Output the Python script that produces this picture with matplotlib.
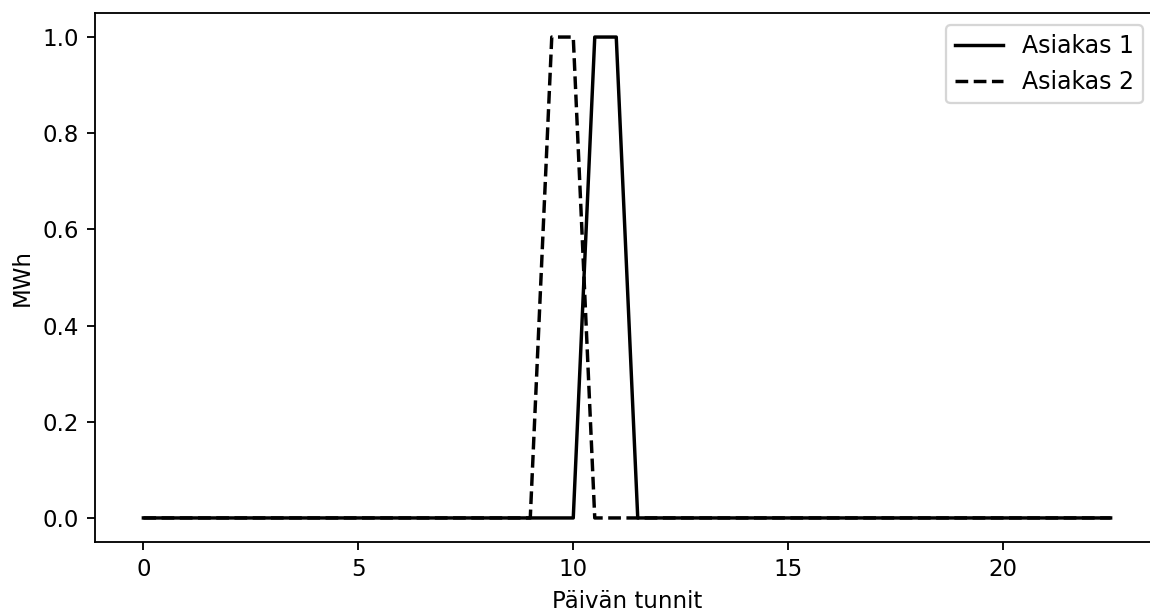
import matplotlib
matplotlib.use("Agg")
import matplotlib.pyplot as plt

hours = [i * 0.5 for i in range(46)]  # 0.0 ... 22.5
asiakas1 = [0]*21 + [1, 1] + [0]*23
asiakas2 = [0]*19 + [1, 1] + [0]*25

fig = plt.figure(figsize=(1150/165, 609/165), dpi=165)
ax = fig.add_axes([95/1150, 67/609, (1159-95)/1150, (542-13)/609])
ax.plot(hours, asiakas1, color="black", linestyle="-", label="Asiakas 1")
ax.plot(hours, asiakas2, color="black", linestyle="--", label="Asiakas 2")
ax.set_xlabel("Päivän tunnit")
ax.set_ylabel("MWh")
ax.legend(loc="upper right", bbox_to_anchor=(0.996, 1.0), prop={"size": 10.3})
fig.savefig("out.png", dpi=165)
